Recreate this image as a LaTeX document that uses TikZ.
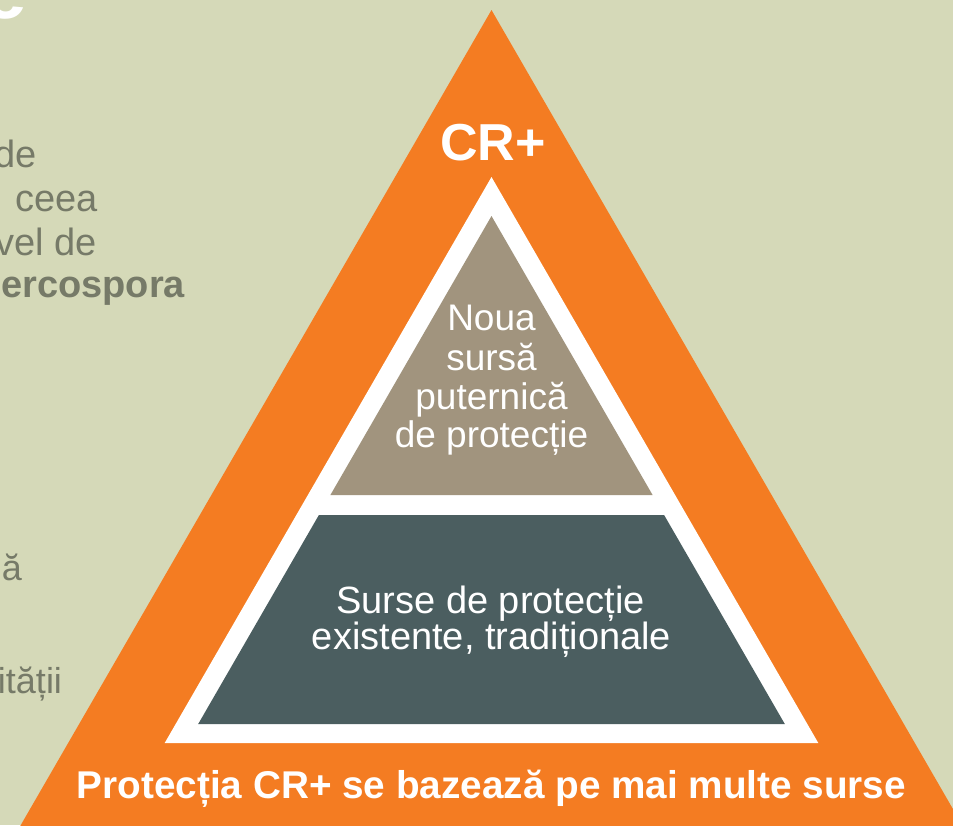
\documentclass[tikz,border=0pt]{standalone}
\usepackage{fontspec}
\setmainfont{Liberation Sans}
\definecolor{bgc}{RGB}{213,217,184}
\definecolor{orangec}{RGB}{244,124,34}
\definecolor{brownc}{RGB}{161,148,126}
\definecolor{slatec}{RGB}{75,94,96}
\definecolor{grayc}{RGB}{118,122,104}
\tikzset{
  txt/.style={inner sep=0pt, outer sep=0pt},
  whitetxt/.style={txt, text=white},
  graytxt/.style={txt, text=grayc, font=\fontsize{38}{43}\selectfont},
  graysmall/.style={txt, text=grayc, font=\fontsize{36}{40}\selectfont},
  topline/.style={whitetxt, anchor=base, font=\fontsize{37}{39}\selectfont},
  midline/.style={whitetxt, anchor=base, font=\fontsize{38}{37}\selectfont},
}
\begin{document}
\begin{tikzpicture}[x=1pt,y=-1pt]
\useasboundingbox (0,0) rectangle (953,825);
\clip (0,0) rectangle (953,825);
\fill[bgc] (0,0) rectangle (953,825);
% pyramid
\fill[orangec] (491.5,10) -- (1005.5,900) -- (-22.5,900) -- cycle;
\fill[white] (491.5,177) -- (818.3,743) -- (164.7,743) -- cycle;
\fill[brownc] (491.5,216) -- (652.6,495) -- (330.4,495) -- cycle;
\fill[slatec] (318.9,515) -- (664.1,515) -- (784.8,724) -- (198.2,724) -- cycle;
% left text (cut off by the picture's edge, as in the reference)
\node[whitetxt, anchor=base east, font=\fontsize{80}{80}\selectfont\bfseries] (bige) at (27,18) {e};
\node[graytxt, anchor=base east] (l1) at (37,167) {de};
\node[graytxt, anchor=base east] (l2) at (98,211) {ceea};
\node[graytxt, anchor=base east] (l3) at (97,255) {vel de};
\node[graytxt, anchor=base east, font=\fontsize{38}{43}\selectfont\bfseries] (l4) at (185,297) {ercospora};
\node[graysmall, anchor=base east] (l5) at (22,580) {ză};
\node[graysmall, anchor=base east] (l6) at (62,693) {ității};
% pyramid texts
\node[whitetxt, anchor=base, font=\fontsize{52}{55}\selectfont\bfseries] (cr) at (493,160) {CR+};
\node[topline] (n1) at (491.5,330) {Noua};
\node[topline] (n2) at (491.5,370) {sursă};
\node[topline] (n3) at (491.5,409) {puternică};
\node[topline] (n4) at (491.5,447) {de protecție};
\node[midline] (m1) at (490.5,613) {Surse de protecție};
\node[midline] (m2) at (491.5,649) {existente, tradiționale};
\node[whitetxt, anchor=base, font=\fontsize{38.7}{40}\selectfont\bfseries] (bottom) at (491.5,798) {Protecția CR+ se bazează pe mai multe surse};
\end{tikzpicture}
\end{document}
